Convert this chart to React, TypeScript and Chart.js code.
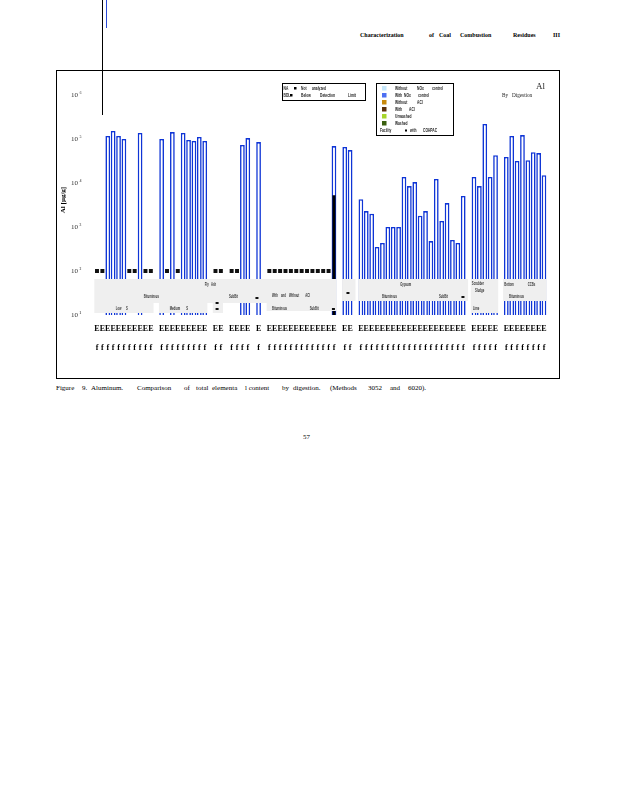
import React, { useEffect, useRef } from 'react';
import { Chart, registerables } from 'chart.js';
Chart.register(...registerables);

// Aluminum content (µg/g), one entry per sample slot; null = no bar in that slot
const aluminum: (number | null)[] = [
  null, null, 117000, 152000, 117000, 100000, null, null, 137000, null,
  null, null, 100000, null, 144000, null, 137000, 95000, 90000, 111000,
  90000, null, null, null, null, null, null, 73000, 105000, null,
  85000, null, null, null, null, null, null, null, null, null,
  null, null, null, null, 69000, null, 66000, 56000, null, 4300,
  2300, 2000, 351, 433, 1000, 1000, 1000, 13700, 8500, 10500,
  1800, 2300, 480, 12400, 1370, 3500, 507, 433, 5070, null,
  13700, 8500, 220000, 13700, 43000, null, 39000, 117000, 31600, 123000,
  33000, 50000, 48000, 15000,
];

// Samples plotted as "not analyzed / below detection" markers (at 10^2)
const notAnalyzed: (number | null)[] = [
  100, 100, null, null, null, null, 100, 100, null, 100,
  100, null, null, 100, null, 100, null, null, null, null,
  null, null, 100, 100, null, 100, 100, null, null, null,
  null, null, 100, 100, 100, 100, 100, 100, 100, 100,
  100, 100, 100, 100, null, null, null, null, null, null,
  null, null, null, null, null, null, null, null, null, null,
  null, null, null, null, null, null, null, null, null, null,
  null, null, null, null, null, null, null, null, null, null,
  null, null, null, null,
];

// Second digestion result (filled black bar)
const altDigestSlot = 44;
const altDigestValue = 5300;

// Tick glyph rows under each sample
const tickTop = 'E';
const tickBottom = 'f';

const yExponents = [1, 2, 3, 4, 5, 6];
const sup = ['⁰', '¹', '²', '³', '⁴', '⁵', '⁶'];

// Grey group-label boxes: slot range, top/bottom offsets above axis bottom
const bandBoxes = [
  { from: -0.5, to: 44.5, top: 36, bottom: 12 },
  { from: -0.5, to: 10.5, top: 12, bottom: 2 },
  { from: 11.5, to: 20.5, top: 12, bottom: 2 },
  { from: 21.5, to: 23.4, top: 12, bottom: 2 },
  { from: 31.5, to: 44.5, top: 12, bottom: 4 },
  { from: 45.5, to: 48, top: 36, bottom: 14 },
  { from: 48.5, to: 68.9, top: 36, bottom: 14 },
  { from: 69.4, to: 74.5, top: 36, bottom: 2 },
  { from: 75.4, to: 83.5, top: 36, bottom: 14 },
];

const bandTexts: [string, number, number][] = [
  ['Fly   Ash', 20.0, 31],
  ['Bituminous', 8.7, 19],
  ['SubBit', 24.5, 19],
  ['With    and    Without        ACI', 32.5, 20],
  ['Low      S', 3.5, 7],
  ['Medium        S', 13.5, 7],
  ['Bituminous', 32.5, 7],
  ['SubBit', 39.5, 7],
  ['Gypsum', 56.3, 31],
  ['Bituminous', 52.9, 19],
  ['SubBit', 63.5, 19],
  ['Scrubber', 69.6, 32],
  ['Sludge', 70.2, 25],
  ['Lime', 69.8, 7],
  ['Bottom', 75.6, 31],
  ['CCBs', 80.0, 31],
  ['Bituminous', 76.5, 19],
];

const bandMarks: [number, number][] = [
  [22.3, 12], [22.3, 6], [29.7, 17], [43.9, 6], [46.6, 22], [67.95, 18],
];

const legendColors = ['#c4e6fa', '#4d6ff2', '#c98a0c', '#5c300a', '#a7d52b', '#3b600f'];
const legendRows: [string, number][][] = [
  [['Without', 339], ['NOx', 361], ['control', 376]],
  [['With', 339], ['NOx', 348], ['control', 362]],
  [['Without', 339], ['ACI', 361]],
  [['With', 339], ['ACI', 353]],
  [['Unwashed', 339]],
  [['Washed', 339]],
];

const labels = aluminum.map((v, i) => (v !== null || notAnalyzed[i] !== null ? [tickTop, tickBottom] : ''));
const altDigest = aluminum.map((_, i) => (i === altDigestSlot ? altDigestValue : null));

function txt(ctx: CanvasRenderingContext2D, text: string, x: number, y: number, font: string, sx = 1, color = '#222', align: CanvasTextAlign = 'left') {
  ctx.save();
  ctx.font = font;
  ctx.fillStyle = color;
  ctx.textBaseline = 'middle';
  ctx.textAlign = align;
  ctx.translate(x, y);
  ctx.scale(sx, 1);
  ctx.fillText(text, 0, 0);
  ctx.restore();
}

const SANS = '"Liberation Sans", Arial, sans-serif';
const SERIF = '"Liberation Serif", "Times New Roman", serif';

const overlay = {
  id: 'overlay',
  afterDatasetsDraw(chart: any) {
    const ctx: CanvasRenderingContext2D = chart.ctx;
    const xs = chart.scales.x;
    const ys = chart.scales.y;
    const bottom = chart.chartArea.bottom;
    ctx.save();
    ctx.fillStyle = '#efefef';
    for (const b of bandBoxes) {
      const x1 = xs.getPixelForValue(b.from);
      const x2 = xs.getPixelForValue(b.to);
      ctx.fillRect(x1, bottom - b.top, x2 - x1, b.top - b.bottom);
    }
    for (const [t, s, dy] of bandTexts) {
      txt(ctx, t, xs.getPixelForValue(s), bottom - dy, `bold 5.5px ${SANS}`, 0.5, '#333');
    }
    ctx.fillStyle = '#111';
    for (const [s, dy] of bandMarks) {
      ctx.fillRect(xs.getPixelForValue(s) - 1.5, bottom - dy - 1, 3, 2);
    }
    // y tick labels
    for (const e of yExponents) {
      const y = ys.getPixelForValue(Math.pow(10, e));
      txt(ctx, '10', 22, y, `7px ${SERIF}`, 1, '#333', 'right');
      txt(ctx, sup[e], 23.5, y - 2, `6px ${SERIF}`, 1, '#333', 'left');
    }
    // y title
    ctx.save();
    ctx.translate(7, 130);
    ctx.rotate(-Math.PI / 2);
    ctx.font = `bold 7px ${SERIF}`;
    ctx.fillStyle = '#000';
    ctx.textAlign = 'center';
    ctx.textBaseline = 'middle';
    ctx.fillText('Al [µg/g]', 0, 0);
    ctx.restore();

    // Legend box 1
    ctx.strokeStyle = '#000';
    ctx.lineWidth = 1;
    ctx.strokeRect(226.5, 13.5, 83, 17);
    const f = `bold 5.5px ${SANS}`;
    txt(ctx, 'NA', 227.5, 18.5, f, 0.6);
    ctx.fillStyle = '#000';
    ctx.fillRect(238, 17, 2.5, 2.5);
    txt(ctx, 'Not', 245, 18.5, f, 0.6);
    txt(ctx, 'analyzed', 256, 18.5, f, 0.6);
    txt(ctx, 'BDL', 227.5, 25.5, f, 0.6);
    ctx.fillStyle = '#000';
    ctx.fillRect(234, 24, 2.5, 2.5);
    txt(ctx, 'Below', 245, 25.5, f, 0.6);
    txt(ctx, 'Detection', 264, 25.5, f, 0.6);
    txt(ctx, 'Limit', 292, 25.5, f, 0.6);

    // Legend box 2
    ctx.strokeRect(320.5, 13.5, 77, 52);
    legendRows.forEach((row, i) => {
      const y = 18.5 + i * 7;
      ctx.fillStyle = legendColors[i];
      ctx.fillRect(326, y - 2.5, 4.5, 4.5);
      for (const [w, x] of row) txt(ctx, w, x, y, f, 0.6);
    });
    txt(ctx, 'Facility', 324, 60.5, f, 0.6);
    ctx.fillStyle = '#000';
    ctx.fillRect(349, 59.5, 2, 2);
    txt(ctx, 'with', 354, 60.5, f, 0.6);
    txt(ctx, 'COHPAC', 367, 60.5, f, 0.6);

    // Title in corner
    txt(ctx, 'Al', 480, 16.5, `9px ${SERIF}`, 1, '#222');
    txt(ctx, 'By', 446, 25.5, `6.5px ${SERIF}`, 0.8, '#222');
    txt(ctx, 'Digestion', 456, 25.5, `6.5px ${SERIF}`, 0.8, '#222');

    // frame
    ctx.strokeStyle = '#000';
    ctx.lineWidth = 1;
    ctx.strokeRect(0.5, 0.5, 503, 308);
    ctx.restore();
  },
};

type W = [string, number];
const headerWords: W[] = [['Characterization', 360], ['of', 429], ['Coal', 439], ['Combustion', 460], ['Residues', 513], ['III', 553]];
const captionWords: W[] = [
  ['Figure', 56], ['9.', 82], ['Aluminum.', 91], ['Comparison', 137], ['of', 184], ['total', 196],
  ['elementa', 212], ['l content', 245], ['by', 282], ['digestion.', 293], ['(Methods', 330],
  ['3052', 368], ['and', 390], ['6020).', 408],
];

function Words({ words, y, size, bold }: { words: W[]; y: number; size: number; bold?: boolean }) {
  return (
    <>
      {words.map(([t, x], i) => (
        <span
          key={i}
          style={{
            position: 'absolute', left: x, top: y - size * 0.55, fontFamily: SERIF, fontSize: size,
            fontWeight: bold ? 'bold' : 'normal', lineHeight: 1, whiteSpace: 'pre', color: '#000',
          }}
        >
          {t}
        </span>
      ))}
    </>
  );
}

export default function App() {
  const ref = useRef<HTMLCanvasElement>(null);
  useEffect(() => {
    const canvas = ref.current;
    if (!canvas) return;
    const chart = new Chart(canvas, {
      type: 'bar',
      data: {
        labels,
        datasets: [
          {
            type: 'line', label: 'Not analyzed', data: notAnalyzed, showLine: false, pointStyle: 'rect',
            pointRadius: 2.8, pointBackgroundColor: '#111', pointBorderColor: '#111', pointBorderWidth: 0, order: 0,
          } as any,
          {
            type: 'bar', label: 'Other digestion', data: altDigest, backgroundColor: '#000', borderWidth: 0,
            barPercentage: 0.55, categoryPercentage: 1, grouped: false, order: 1,
          } as any,
          {
            type: 'bar', label: 'Al', data: aluminum, backgroundColor: '#ffffff', borderColor: '#0f35d6',
            borderWidth: 1.6, barPercentage: 0.88, categoryPercentage: 1, grouped: false, order: 2,
          } as any,
        ],
      },
      options: {
        responsive: false,
        animation: false,
        devicePixelRatio: 1,
        layout: { padding: { left: 0, top: 25, right: 13.3, bottom: 0 } },
        plugins: { legend: { display: false }, tooltip: { enabled: false }, title: { display: false } },
        scales: {
          x: {
            type: 'category', offset: true,
            grid: { display: false, drawTicks: false }, border: { display: false },
            ticks: {
              autoSkip: false, maxRotation: 0, minRotation: 0, padding: 4, color: '#000',
              font: { family: SERIF, size: 8, weight: 'bold', lineHeight: 2.4 },
            },
            afterFit: (s: any) => { s.height = 64; },
          },
          y: {
            type: 'logarithmic', min: 10, max: 1e6,
            grid: { display: false, drawTicks: false }, border: { display: false },
            ticks: { display: false },
            afterFit: (s: any) => { s.width = 38.3; },
          },
        },
      } as any,
      plugins: [overlay],
    });
    return () => chart.destroy();
  }, []);

  return (
    <div style={{ position: 'absolute', left: 0, top: 0, width: 618, height: 800, background: '#fff', overflow: 'hidden' }}>
      <Words words={headerWords} y={35} size={6} bold />
      <canvas ref={ref} width={504} height={309} style={{ position: 'absolute', left: 56, top: 70, width: 504, height: 309 }} />
      <div style={{ position: 'absolute', left: 102, top: 0, width: 1, height: 115, background: '#000' }} />
      <div style={{ position: 'absolute', left: 106, top: 0, width: 1, height: 28, background: '#2a4ad8' }} />
      <Words words={captionWords} y={389} size={7} />
      <Words words={[['57', 303]]} y={438} size={7} />
    </div>
  );
}
